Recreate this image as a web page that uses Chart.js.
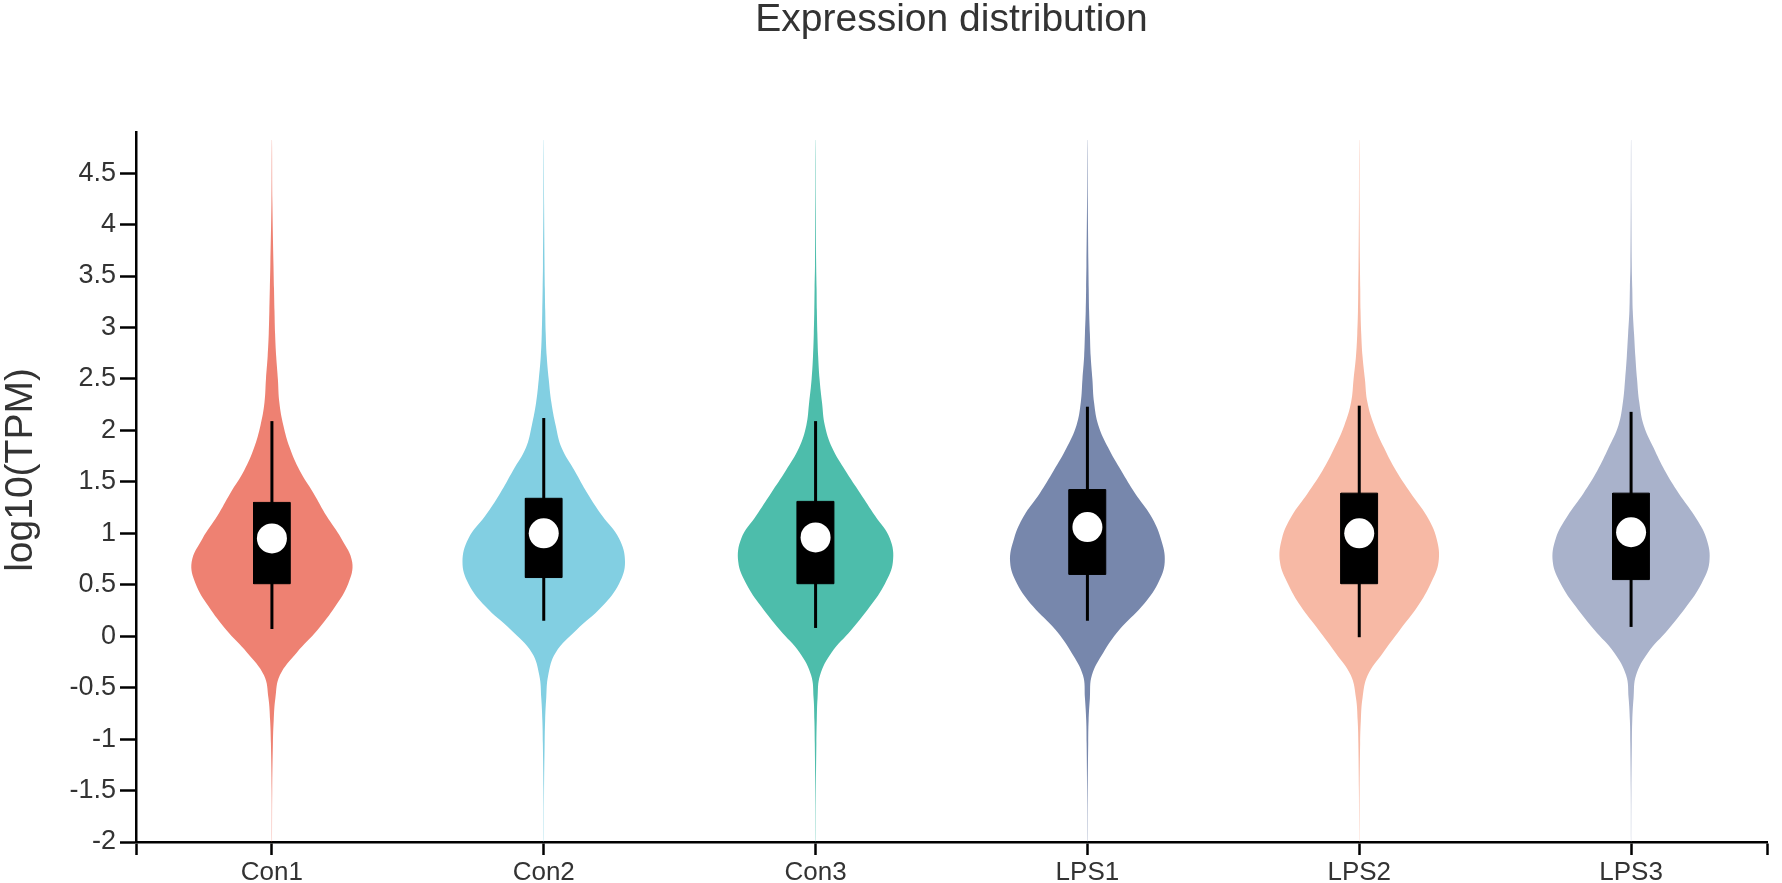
<!DOCTYPE html>
<html>
<head>
<meta charset="utf-8">
<script src="https://cdn.jsdelivr.net/npm/chart.js@4/dist/chart.umd.min.js"></script>
<style>
html,body{margin:0;padding:0;background:#fff;}
#wrap{width:1782px;height:883px;position:relative;}
</style>
</head>
<body>
<div id="wrap"><canvas id="c"></canvas></div>
<script>
// ---------- data ----------
const categories = ['Con1', 'Con2', 'Con3', 'LPS1', 'LPS2', 'LPS3'];
const chartTitle = 'Expression distribution';
const yAxisTitle = 'log10(TPM)';

// log10(TPM) levels at which the kernel density was read
const densityLevels = [-2.0, -1.5, -1.04, -0.82, -0.60, -0.38, -0.16, 0.06, 0.29, 0.51, 0.72, 0.95, 1.17, 1.39, 1.61, 1.83, 2.05, 2.27, 2.50, 2.72, 2.94, 3.16, 3.38, 3.60, 4.20, 4.82];

// relative density (violin half-width) per level
const densityCon1 = [0.12, 0.3, 1.0, 1.8, 3.5, 8.0, 25, 46, 64, 77, 81, 70, 55, 42, 28, 18, 11.5, 7.5, 6.0, 4.3, 3.2, 2.6, 2.1, 1.6, 0.5, 0.1];
const densityCon2 = [0.12, 0.3, 0.9, 1.4, 2.5, 4.5, 12, 33, 59, 76, 82, 76, 59, 44, 31, 18, 12, 7.7, 5.0, 3.0, 2.0, 1.5, 1.1, 0.8, 0.35, 0.1];
const densityCon3 = [0.12, 0.3, 0.8, 1.2, 2.0, 4.5, 16, 36, 55, 70, 78, 75, 60, 45, 30, 16.7, 9.3, 6.5, 4.0, 2.6, 1.8, 1.3, 1.0, 0.6, 0.3, 0.1];
const densityLPS1 = [0.12, 0.3, 0.8, 1.2, 2.5, 4.5, 16, 32, 55, 71, 78, 74, 64, 48, 34, 21, 11, 6.7, 5.0, 3.3, 2.5, 1.7, 1.3, 1.0, 0.4, 0.1];
const densityLPS2 = [0.12, 0.35, 0.9, 1.6, 3.3, 8.5, 24, 41, 59, 72, 80, 78, 68, 52, 37, 25, 15, 8.3, 5.7, 3.3, 2.0, 1.3, 1.0, 0.7, 0.3, 0.1];
const densityLPS3 = [0.12, 0.3, 0.8, 1.2, 2.5, 5.0, 17, 37, 56, 71, 79, 76, 64, 48, 34, 22.7, 12.7, 8.3, 6.0, 4.3, 3.0, 1.7, 1.2, 0.7, 0.3, 0.1];

// box plot statistics
const whiskerLow  = [0.07, 0.15, 0.08, 0.15, -0.01, 0.09];
const quartile1   = [0.51, 0.57, 0.51, 0.60, 0.51, 0.55];
const medians     = [0.95, 1.00, 0.96, 1.06, 1.00, 1.01];
const quartile3   = [1.30, 1.34, 1.31, 1.425, 1.39, 1.39];
const whiskerHigh = [2.09, 2.12, 2.09, 2.23, 2.24, 2.18];

const yTickValues = [-2, -1.5, -1, -0.5, 0, 0.5, 1, 1.5, 2, 2.5, 3, 3.5, 4, 4.5];
const xTickValues = [-0.5, 0, 1, 2, 3, 4, 5, 5.5];

// ---------- styles ----------
const fillColors = ['#EE8172', '#82CFE2', '#4DBDAB', '#7787AC', '#F7B9A5', '#A9B2CB'];
const FONT = "'Liberation Sans', Arial, Helvetica, sans-serif";
const TEXT = '#333333';
const DENSITY_WIDTH = 1 / 274.3;   // density unit -> category units
const BOX_HALF = 18.5 / 274.3;

const densities = [densityCon1, densityCon2, densityCon3, densityLPS1, densityLPS2, densityLPS3];

function violinPoints(i) {
  const d = densities[i];
  const pts = [];
  for (let k = 0; k < densityLevels.length; k++) pts.push({x: i + d[k] * DENSITY_WIDTH, y: densityLevels[k]});
  for (let k = densityLevels.length - 1; k >= 0; k--) pts.push({x: i - d[k] * DENSITY_WIDTH, y: densityLevels[k]});
  return pts;
}

const datasets = [];
categories.forEach((name, i) => {
  datasets.push({
    label: name + ' violin', type: 'line', data: violinPoints(i),
    backgroundColor: fillColors[i], borderColor: 'rgba(0,0,0,0)', borderWidth: 1,
    fill: 'shape', tension: 0.4, pointRadius: 0, order: 4
  });
  datasets.push({
    label: name + ' whisker', type: 'line',
    data: [{x: i, y: whiskerLow[i]}, {x: i, y: whiskerHigh[i]}],
    borderColor: '#000', borderWidth: 3, fill: false, pointRadius: 0, tension: 0, order: 3
  });
  datasets.push({
    label: name + ' box', type: 'line',
    data: [{x: i - BOX_HALF, y: quartile1[i]}, {x: i + BOX_HALF, y: quartile1[i]},
           {x: i + BOX_HALF, y: quartile3[i]}, {x: i - BOX_HALF, y: quartile3[i]},
           {x: i - BOX_HALF, y: quartile1[i]}],
    backgroundColor: '#000', borderColor: '#000', borderWidth: 1,
    fill: 'shape', pointRadius: 0, tension: 0, order: 2
  });
  datasets.push({
    label: name + ' median', type: 'scatter',
    data: [{x: i, y: medians[i]}],
    backgroundColor: '#fff', borderColor: '#fff', borderWidth: 0, pointRadius: 15, order: 1
  });
});

// y-axis title, drawn slightly above the vertical centre as in the reference
const yTitlePlugin = {
  id: 'yTitle',
  afterDraw(chart) {
    const ctx = chart.ctx, a = chart.chartArea;
    ctx.save();
    ctx.translate(21, (a.top + a.bottom) / 2 - 17);
    ctx.rotate(-Math.PI / 2);
    ctx.font = '39px ' + FONT;
    ctx.fillStyle = TEXT;
    ctx.textAlign = 'center';
    ctx.textBaseline = 'middle';
    ctx.fillText(yAxisTitle, 0, 0);
    ctx.restore();
  }
};

new Chart(document.getElementById('c'), {
  type: 'line',
  data: {datasets},
  plugins: [yTitlePlugin],
  options: {
    responsive: true,
    maintainAspectRatio: false,
    animation: false,
    layout: {padding: {left: 0, right: 2, top: 0, bottom: 0}},
    plugins: {
      legend: {display: false},
      tooltip: {enabled: false},
      title: {
        display: true, text: chartTitle, fullSize: false, color: TEXT,
        font: {family: FONT, size: 39, weight: 'normal', lineHeight: 1.05},
        padding: {top: 0, bottom: 91}
      }
    },
    scales: {
      x: {
        type: 'linear', min: -0.5, max: 5.5,
        afterBuildTicks: s => { s.ticks = xTickValues.map(v => ({value: v})); },
        afterFit: s => { s.height = 41; },
        ticks: {
          autoSkip: false, maxRotation: 0, minRotation: 0, color: TEXT, padding: 2,
          font: {family: FONT, size: 26},
          callback: v => Number.isInteger(v) ? categories[v] : ''
        },
        grid: {display: true, drawOnChartArea: false, drawTicks: true, tickLength: 13, tickWidth: 2.5, tickColor: '#000'},
        border: {display: true, color: '#000', width: 2.5}
      },
      y: {
        type: 'linear', min: -2, max: 4.9,
        afterBuildTicks: s => { s.ticks = yTickValues.map(v => ({value: v})); },
        afterFit: s => { s.width = 136; },
        ticks: {color: TEXT, padding: 4, font: {family: FONT, size: 27}, callback: v => String(v)},
        grid: {display: true, drawOnChartArea: false, drawTicks: true, tickLength: 16, tickWidth: 2.5, tickColor: '#000'},
        border: {display: true, color: '#000', width: 2.5},
        title: {display: false}
      }
    }
  }
});
</script>
</body>
</html>
